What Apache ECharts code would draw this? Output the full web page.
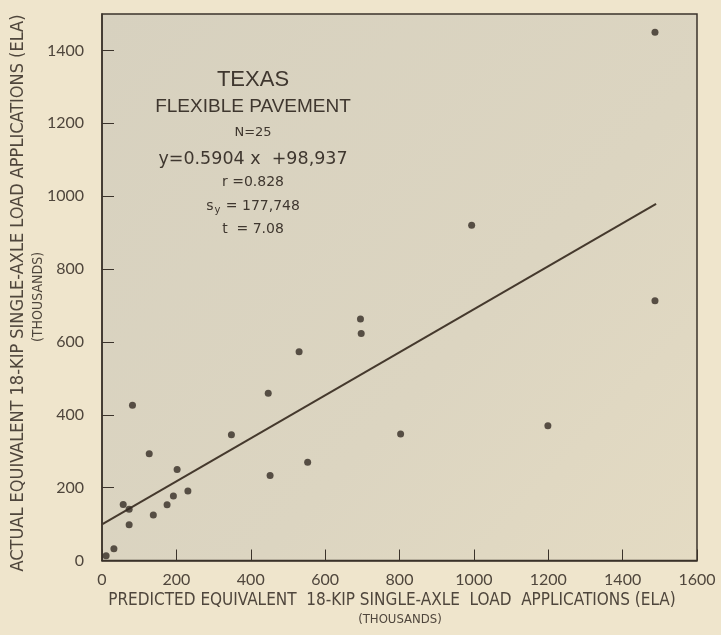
<!DOCTYPE html>
<html>
<head>
<meta charset="utf-8">
<script src="https://cdn.jsdelivr.net/npm/echarts@6/dist/echarts.min.js"></script>
<style>
  html, body { margin: 0; padding: 0; background: #efe5cc; }
  #chart { width: 721px; height: 635px; }
</style>
</head>
<body>
<div id="chart"></div>
<script>
// Predicted vs. actual equivalent 18-kip single-axle load applications (thousands)
const predictedELA = [11, 32, 57, 73, 73, 82, 127, 138, 175, 192, 202, 231, 348, 447, 452, 530, 553, 695, 697, 803, 994, 1199, 1487, 1487];
const actualELA    = [13, 32, 154, 141, 98, 426, 293, 125, 153, 177, 250, 191, 345, 459, 233, 573, 270, 663, 623, 347, 920, 370, 1450, 713];

// Least-squares fit stated on the chart
const slope = 0.5904;
const intercept = 98.937;
const fitRange = [0, 1490];

const xTicks = ['0', '200', '400', '600', '800', '1000', '1200', '1400', '1600'];
const yTicks = ['0', '200', '400', '600', '800', '1000', '1200', '1400'];

const infoLines = [
  { text: 'TEXAS', size: 22, font: 'Liberation Sans', y: 80 },
  { text: 'FLEXIBLE PAVEMENT', size: 19, font: 'Liberation Sans', y: 107 },
  { text: 'N=25', size: 13, font: 'DejaVu Sans', y: 133 },
  { text: 'y=0.5904 x  +98,937', size: 17.5, font: 'DejaVu Sans', y: 159 },
  { text: 'r =0.828', size: 14, font: 'DejaVu Sans', y: 182 },
  { text: '{s|s}{sub|y}{s| = 177,748}', size: 14, font: 'DejaVu Sans', y: 206 },
  { text: 't  = 7.08', size: 14, font: 'DejaVu Sans', y: 229 }
];

const ink = '#3b332b';
const labelInk = '#4f463c';
const textInk = '#3f372f';
const axisFont = 'Lato, "Noto Sans", sans-serif';
const narrowFont = '"Liberation Sans Narrow", "DejaVu Sans Condensed", "Liberation Sans", sans-serif';

const scatterData = predictedELA.map((x, i) => [x, actualELA[i]]);
const fitData = fitRange.map(x => [x, slope * x + intercept]);

const chart = echarts.init(document.getElementById('chart'), null, { renderer: 'canvas' });

const titleGraphics = [
  {
    type: 'text',
    rotation: Math.PI / 2,
    x: 18, y: 293,
    style: {
      text: 'ACTUAL EQUIVALENT 18-KIP SINGLE-AXLE LOAD APPLICATIONS (ELA)',
      align: 'center', verticalAlign: 'middle',
      fill: labelInk,
      font: '18px ' + narrowFont
    }
  },
  {
    type: 'text',
    rotation: Math.PI / 2,
    x: 38, y: 297,
    style: {
      text: '(THOUSANDS)',
      align: 'center', verticalAlign: 'middle',
      fill: labelInk,
      font: '14px ' + narrowFont
    }
  },
  {
    type: 'text',
    x: 392, y: 601,
    style: {
      text: 'PREDICTED EQUIVALENT  18-KIP SINGLE-AXLE  LOAD  APPLICATIONS (ELA)',
      align: 'center', verticalAlign: 'middle',
      fill: labelInk,
      font: '17px ' + narrowFont
    }
  },
  {
    type: 'text',
    x: 400, y: 620,
    style: {
      text: '(THOUSANDS)',
      align: 'center', verticalAlign: 'middle',
      fill: labelInk,
      font: '13px ' + narrowFont
    }
  }
];

const infoGraphics = infoLines.map(l => ({
  type: 'text',
  x: 253, y: l.y,
  style: {
    text: l.text,
    align: 'center', verticalAlign: 'middle',
    fill: textInk,
    font: l.size + 'px "' + l.font + '", sans-serif',
    rich: {
      s: { fontSize: l.size, fontFamily: l.font, fill: textInk },
      sub: { fontSize: 10, fontFamily: l.font, fill: textInk, padding: [8, 1, 0, 1] }
    }
  }
}));

chart.setOption({
  backgroundColor: '#efe5cc',
  animation: false,
  grid: {
    left: 102, right: 24, top: 14, bottom: 74.5,
    show: true,
    borderColor: ink,
    borderWidth: 1.5,
    backgroundColor: {
      type: 'linear', x: 0, y: 0, x2: 1, y2: 1,
      colorStops: [
        { offset: 0, color: '#d7d1bf' },
        { offset: 0.6, color: '#dcd5c1' },
        { offset: 1, color: '#e4dbc3' }
      ]
    }
  },
  xAxis: {
    type: 'value',
    min: 0, max: 1600, interval: 200,
    axisLine: { show: true, onZero: false, lineStyle: { color: ink, width: 1.5 } },
    axisTick: { show: true, inside: true, length: 11, lineStyle: { color: ink, width: 1 } },
    splitLine: { show: false },
    axisLabel: {
      margin: 11,
      color: labelInk,
      fontFamily: axisFont,
      fontSize: 16,
      formatter: (v) => xTicks[Math.round(v / 200)]
    }
  },
  yAxis: {
    type: 'value',
    min: 0, max: 1500, interval: 200,
    axisLine: { show: true, onZero: false, lineStyle: { color: ink, width: 1.5 } },
    axisTick: { show: true, inside: true, length: 12, lineStyle: { color: ink, width: 1 } },
    splitLine: { show: false },
    axisLabel: {
      margin: 18,
      color: labelInk,
      fontFamily: axisFont,
      fontSize: 16,
      showMaxLabel: false,
      formatter: (v) => (v % 200 === 0 ? yTicks[v / 200] : '')
    }
  },
  series: [
    {
      type: 'line',
      data: fitData,
      showSymbol: false,
      lineStyle: { color: '#45392d', width: 2 },
      silent: true,
      z: 2
    },
    {
      type: 'scatter',
      data: scatterData,
      symbol: 'circle',
      symbolSize: 7,
      itemStyle: { color: '#352c24' },
      z: 3
    }
  ],
  graphic: titleGraphics.concat(infoGraphics)
});
</script>
</body>
</html>
